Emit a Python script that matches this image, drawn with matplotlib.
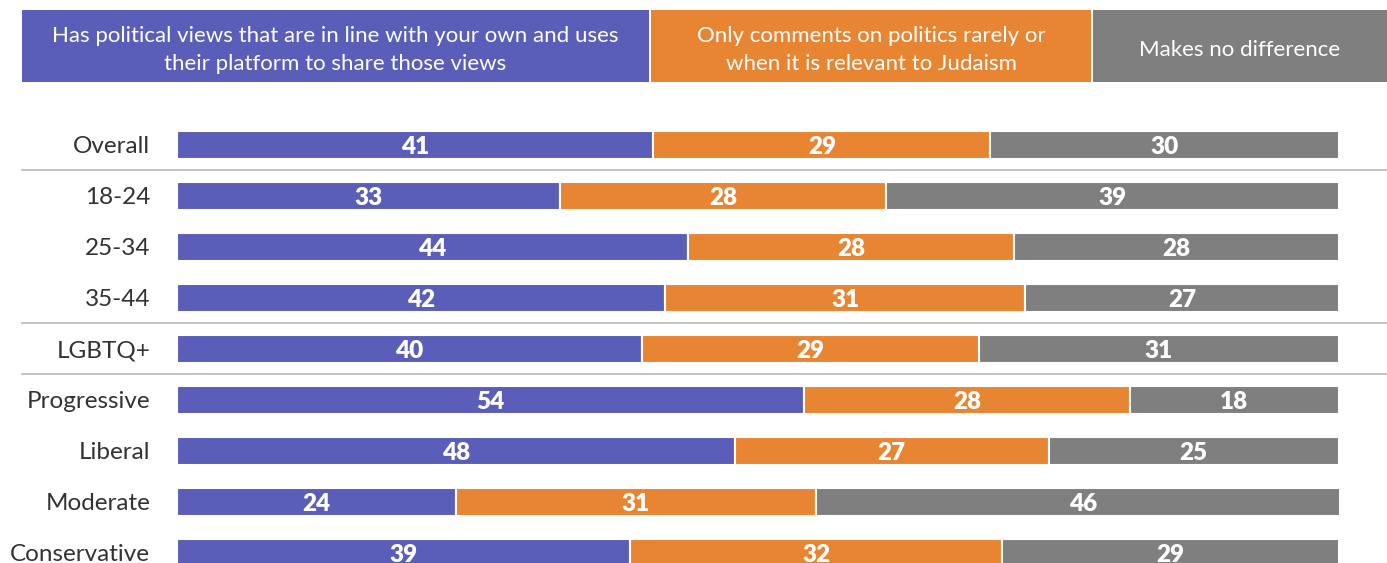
import matplotlib
matplotlib.use("Agg")
import matplotlib.pyplot as plt
from matplotlib.patches import Rectangle
from matplotlib.transforms import blended_transform_factory
import numpy as np

plt.rcParams['font.family'] = ['Lato', 'DejaVu Sans']

categories = ["Overall", "18-24", "25-34", "35-44", "LGBTQ+",
              "Progressive", "Liberal", "Moderate", "Conservative"]
in_line = [41, 33, 44, 42, 40, 54, 48, 24, 39]
rarely = [29, 28, 28, 31, 29, 28, 27, 31, 32]
no_diff = [30, 39, 28, 27, 31, 18, 25, 46, 29]

series_names = [
    "Has political views that are in line with your own and uses\ntheir platform to share those views",
    "Only comments on politics rarely or\nwhen it is relevant to Judaism",
    "Makes no difference",
]
colors = ["#5A5EB8", "#E88532", "#7F7F7F"]
separators_after = [0, 3, 4]

W, H = 1387, 563
fig = plt.figure(figsize=(W / 100, H / 100), dpi=100)

# bar area: 0..100 maps to px 177..1339, rows centred from 145 px with 51 px spacing
row_px0, row_step = 145, 51
n = len(categories)
top_px = row_px0 - row_step / 2
bot_px = row_px0 + (n - 0.5) * row_step
ax = fig.add_axes([177 / W, 1 - bot_px / H, (1339 - 177) / W, (bot_px - top_px) / H])
ax.set_xlim(0, 100)
ax.set_ylim(n - 0.5, -0.5)
ax.axis("off")

y = np.arange(n)
left = np.zeros(n)
for vals, col in zip([in_line, rarely, no_diff], colors):
    vals = np.array(vals, dtype=float)
    ax.barh(y, vals, left=left, height=0.53, color=col,
            edgecolor="white", linewidth=1.5)
    for yi, l, v in zip(y, left, vals):
        ax.text(l + v / 2, yi + 0.03, f"{int(v)}", ha="center", va="center",
                color="white", fontsize=17.5, fontweight="heavy")
    left += vals

for yi, cat in zip(y, categories):
    ax.text(-2.3, yi + 0.03, cat, ha="right", va="center", fontsize=17.5,
            color="#333333")

# group separators spanning the full width
trans = blended_transform_factory(fig.transFigure, ax.transData)
for s in separators_after:
    ax.plot([22 / W, 1.0], [s + 0.5, s + 0.5], transform=trans, color="#BFBFBF",
            linewidth=1.3, clip_on=False)

# header legend boxes
boxes = [(22, 649), (651, 1091), (1093, 1387)]
for (x0, x1), name, col in zip(boxes, series_names, colors):
    fig.patches.append(Rectangle((x0 / W, 1 - 82 / H), (x1 - x0) / W, 72 / H,
                                 transform=fig.transFigure, facecolor=col,
                                 edgecolor="none"))
    fig.text((x0 + x1) / 2 / W, 1 - 50 / H, name, ha="center", va="center",
             color="white", fontsize=16, linespacing=1.55)

fig.savefig("out.png", dpi=100)
